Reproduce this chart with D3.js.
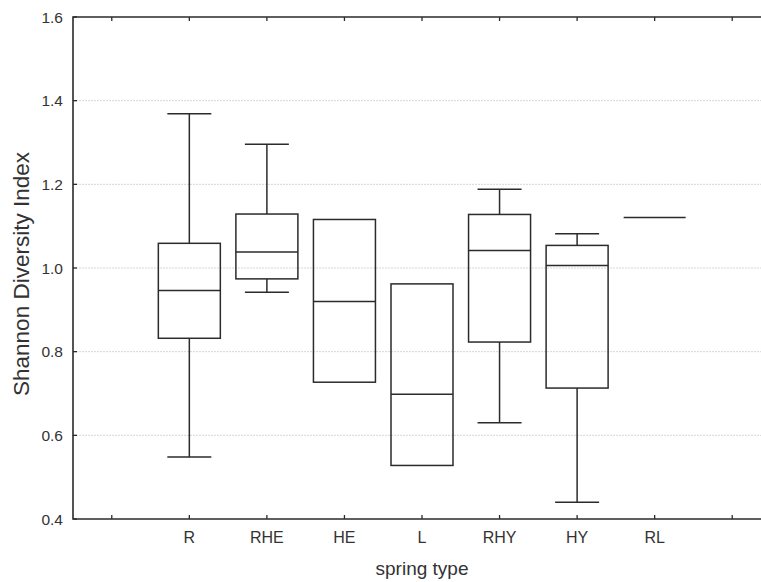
<!DOCTYPE html>
<html>
<head>
<meta charset="utf-8">
<script src="https://cdn.jsdelivr.net/npm/d3@7"></script>
<style>
  html, body { margin: 0; padding: 0; background: #fff; }
  svg { display: block; }
  text { font-family: "Liberation Sans", Arial, sans-serif; fill: #333; }
</style>
</head>
<body>
<svg id="chart" width="761" height="582"></svg>
<script>
// Spring types along the x axis (blank slots pad each end)
const slots = ["_a", "R", "RHE", "HE", "L", "RHY", "HY", "RL", "_b"];
const categories = ["R", "RHE", "HE", "L", "RHY", "HY", "RL"];

// Box statistics per spring type (null = not drawn)
const whiskerLow  = [0.548, 0.942, null,  null,  0.630, 0.440, null];
const boxLow      = [0.832, 0.974, 0.727, 0.528, 0.823, 0.713, 1.121];
const medians     = [0.946, 1.038, 0.920, 0.698, 1.042, 1.006, 1.121];
const boxHigh     = [1.059, 1.129, 1.116, 0.962, 1.128, 1.054, 1.121];
const whiskerHigh = [1.369, 1.296, null,  null,  1.188, 1.082, null];

const yTicks = [0.4, 0.6, 0.8, 1.0, 1.2, 1.4, 1.6];

const svg = d3.select("#chart");
const pLeft = 73, pTop = 17, pBottom = 519, pRight = 771;

const x = d3.scaleBand().domain(slots).range([pLeft, pRight]).padding(0);
const y = d3.scaleLinear().domain([0.4, 1.6]).range([pBottom, pTop]);
const cx = c => x(c) + x.bandwidth() / 2;

const ink = "#2b2b2b";
const boxW = 62, capW = 44;

// grid lines
svg.append("g").selectAll("line")
  .data(yTicks.filter(t => t > 0.4 && t < 1.6))
  .join("line")
  .attr("x1", pLeft).attr("x2", pRight)
  .attr("y1", d => y(d)).attr("y2", d => y(d))
  .attr("stroke", "#d6d6d6").attr("stroke-width", 1)
  .attr("stroke-dasharray", "2,1");

// frame: left, top, bottom
svg.append("path")
  .attr("d", `M${pRight},${pTop}H${pLeft}V${pBottom}H${pRight}`)
  .attr("stroke", ink).attr("stroke-width", 1.6).attr("fill", "none");

// inward ticks
const tk = svg.append("g").attr("stroke", ink).attr("stroke-width", 1.3);
tk.selectAll(".tb").data(slots).join("line").attr("class", "tb")
  .attr("x1", d => cx(d)).attr("x2", d => cx(d))
  .attr("y1", pBottom).attr("y2", pBottom - 4);
tk.selectAll(".tt").data(slots).join("line").attr("class", "tt")
  .attr("x1", d => cx(d)).attr("x2", d => cx(d))
  .attr("y1", pTop).attr("y2", pTop + 4);
tk.selectAll(".tl").data(yTicks).join("line").attr("class", "tl")
  .attr("x1", pLeft).attr("x2", pLeft + 4)
  .attr("y1", d => y(d)).attr("y2", d => y(d));

// y tick labels
svg.append("g").selectAll("text").data(yTicks).join("text")
  .attr("x", 63).attr("y", d => y(d)).attr("dy", "0.36em")
  .attr("text-anchor", "end").attr("font-size", 15.5)
  .text(d => d.toFixed(1));

// x tick labels
svg.append("g").selectAll("text").data(categories).join("text")
  .attr("x", d => cx(d)).attr("y", 543)
  .attr("text-anchor", "middle").attr("font-size", 16)
  .text(d => d);

// axis titles
svg.append("text")
  .attr("x", (pLeft + pRight) / 2).attr("y", 575)
  .attr("text-anchor", "middle").attr("font-size", 19)
  .attr("fill", "#222")
  .text("spring type");

svg.append("text")
  .attr("transform", `translate(29,${(pTop + pBottom) / 2 + 6}) rotate(-90)`)
  .attr("text-anchor", "middle").attr("font-size", 22.5)
  .attr("fill", "#222")
  .text("Shannon Diversity Index");

// boxes
const boxes = svg.append("g").attr("stroke", ink).attr("stroke-width", 1.5).attr("fill", "none");
categories.forEach((c, i) => {
  const g = boxes.append("g");
  const xc = cx(c);
  if (whiskerHigh[i] != null) {
    g.append("line").attr("x1", xc).attr("x2", xc).attr("y1", y(boxHigh[i])).attr("y2", y(whiskerHigh[i]));
    g.append("line").attr("x1", xc - capW / 2).attr("x2", xc + capW / 2).attr("y1", y(whiskerHigh[i])).attr("y2", y(whiskerHigh[i]));
  }
  if (whiskerLow[i] != null) {
    g.append("line").attr("x1", xc).attr("x2", xc).attr("y1", y(boxLow[i])).attr("y2", y(whiskerLow[i]));
    g.append("line").attr("x1", xc - capW / 2).attr("x2", xc + capW / 2).attr("y1", y(whiskerLow[i])).attr("y2", y(whiskerLow[i]));
  }
  if (boxHigh[i] > boxLow[i]) {
    g.append("rect")
      .attr("x", xc - boxW / 2).attr("width", boxW)
      .attr("y", y(boxHigh[i])).attr("height", y(boxLow[i]) - y(boxHigh[i]));
  }
  g.append("line").attr("x1", xc - boxW / 2).attr("x2", xc + boxW / 2)
    .attr("y1", y(medians[i])).attr("y2", y(medians[i]));
});
</script>
</body>
</html>
